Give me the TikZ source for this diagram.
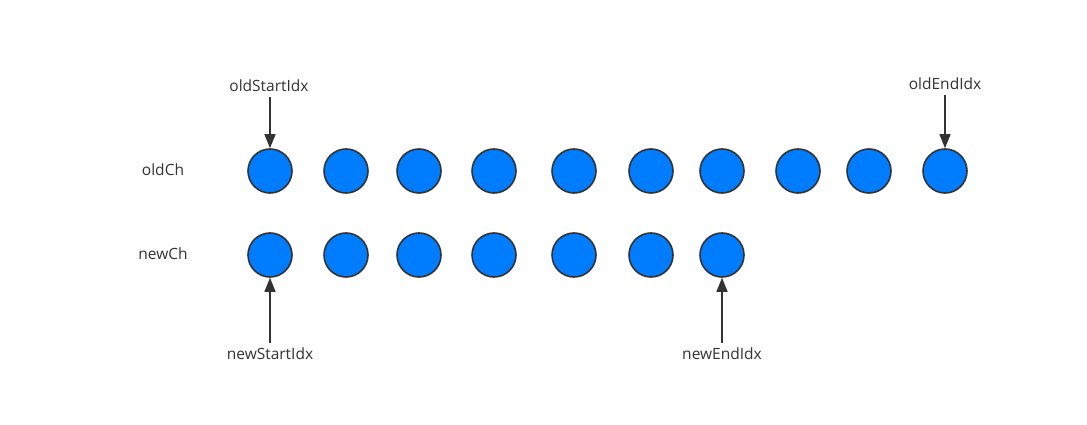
\documentclass[tikz,border=0pt]{standalone}
\usepackage{fontspec}
\setmainfont{Open Sans}
\usetikzlibrary{arrows.meta}
\definecolor{ballblue}{RGB}{0,124,255}
\definecolor{ink}{RGB}{51,51,51}
\tikzset{
  ball/.style={circle,draw=ink,line width=1.6pt,fill=ballblue,minimum size=44pt,inner sep=0pt},
  lbl/.style={text=ink,font=\fontsize{15.5}{18}\selectfont,inner sep=1pt},
  ptr/.style={draw=ink,line width=1.5pt,-{Triangle[length=14pt,width=11pt]}}
}
\begin{document}
\begin{tikzpicture}[x=1pt,y=-1pt]
\useasboundingbox[fill=white] (0,0) rectangle (1087,425);
\node[lbl] (oldlbl) at (163,170) {oldCh};
\node[lbl] (newlbl) at (163,254) {newCh};
\foreach \x [count=\i] in {270,346,419,494,574,651,722,798,869,945}
  \node[ball] (o\i) at (\x,171) {};
\foreach \x [count=\i] in {270,346,419,494,574,651,722}
  \node[ball] (n\i) at (\x,255) {};
\node[lbl] (osi) at (269,86) {oldStartIdx};
\node[lbl] (oei) at (945,84) {oldEndIdx};
\node[lbl] (nsi) at (270,354) {newStartIdx};
\node[lbl] (nei) at (722,354) {newEndIdx};
\coordinate (a1) at (270,97);
\coordinate (a2) at (945,95);
\coordinate (a3) at (270,343);
\coordinate (a4) at (722,343);
\draw[ptr] (a1) -- (o1.north);
\draw[ptr] (a2) -- (o10.north);
\draw[ptr] (a3) -- (n1.south);
\draw[ptr] (a4) -- (n7.south);
\end{tikzpicture}
\end{document}
